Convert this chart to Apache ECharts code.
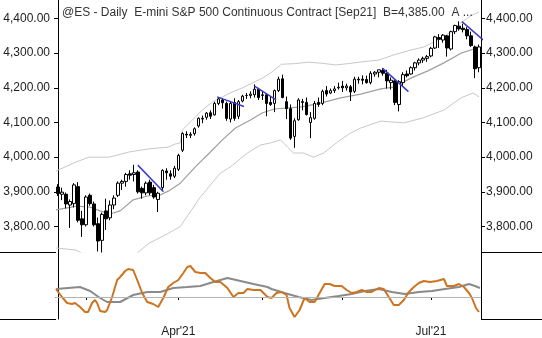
<!DOCTYPE html>
<html><head><meta charset="utf-8">
<script src="https://cdn.jsdelivr.net/npm/echarts@6/dist/echarts.min.js"></script>
<style>html,body{margin:0;padding:0;background:#fff;overflow:hidden}#c{width:542px;height:338px}</style>
</head><body><div id="c"></div>
<script>
// ---- data ----
const dates = [
'2021-02-18','2021-02-19','2021-02-22','2021-02-23','2021-02-24','2021-02-25','2021-02-26',
'2021-03-01','2021-03-02','2021-03-03','2021-03-04','2021-03-05','2021-03-08','2021-03-09','2021-03-10','2021-03-11','2021-03-12',
'2021-03-15','2021-03-16','2021-03-17','2021-03-18','2021-03-19','2021-03-22','2021-03-23','2021-03-24','2021-03-25','2021-03-26',
'2021-03-29','2021-03-30','2021-03-31',
'2021-04-01','2021-04-05','2021-04-06','2021-04-07','2021-04-08','2021-04-09','2021-04-12','2021-04-13','2021-04-14','2021-04-15','2021-04-16',
'2021-04-19','2021-04-20','2021-04-21','2021-04-22','2021-04-23','2021-04-26','2021-04-27','2021-04-28','2021-04-29','2021-04-30',
'2021-05-03','2021-05-04','2021-05-05','2021-05-06','2021-05-07','2021-05-10','2021-05-11','2021-05-12','2021-05-13','2021-05-14',
'2021-05-17','2021-05-18','2021-05-19','2021-05-20','2021-05-21','2021-05-24','2021-05-25','2021-05-26','2021-05-27','2021-05-28',
'2021-06-01','2021-06-02','2021-06-03','2021-06-04','2021-06-07','2021-06-08','2021-06-09','2021-06-10','2021-06-11',
'2021-06-14','2021-06-15','2021-06-16','2021-06-17','2021-06-18','2021-06-21','2021-06-22','2021-06-23','2021-06-24','2021-06-25',
'2021-06-28','2021-06-29','2021-06-30',
'2021-07-01','2021-07-02','2021-07-06','2021-07-07','2021-07-08','2021-07-09','2021-07-12','2021-07-13','2021-07-14','2021-07-15','2021-07-16',
'2021-07-19','2021-07-20'];

const opens = [3914,3893,3893,3862,3866,3915,3822,3805,3890,3865,3808,3760,3845,3825,3862,3890,3925,3930,3952,3950,3957,3910,3897,3928,3912,3878,3912,3960,3952,3945,
3965,4020,4066,4063,4068,4090,4110,4115,4128,4122,4155,4165,4155,4110,4158,4118,4162,4178,4178,4180,4196,
4178,4180,4158,4155,4192,4226,4160,4140,4060,4108,4160,4158,4100,4112,4158,4155,4192,4185,4192,4200,
4205,4200,4203,4190,4225,4225,4224,4215,4240,4245,4250,4242,4215,4220,4152,4215,4240,4240,4258,4272,4280,4285,
4292,4315,4345,4338,4350,4312,4362,4378,4372,4368,4350,4318,4258];
const highs = [3922,3912,3898,3878,3925,3928,3845,3890,3895,3872,3826,3840,3880,3875,3890,3930,3935,3955,3962,3978,3962,3915,3930,3935,3920,3900,3965,3968,3962,3975,
4010,4072,4075,4072,4086,4115,4120,4130,4135,4160,4172,4170,4160,4160,4170,4165,4180,4185,4190,4210,4200,
4192,4182,4175,4195,4232,4238,4175,4152,4112,4170,4168,4172,4130,4162,4172,4195,4205,4198,4205,4215,
4220,4212,4208,4232,4232,4236,4235,4248,4248,4252,4257,4252,4230,4225,4222,4245,4250,4262,4275,4285,4290,4295,
4318,4350,4355,4355,4352,4365,4382,4392,4385,4375,4362,4322,4325];
const lows = [3888,3876,3852,3796,3855,3812,3770,3800,3860,3800,3728,3725,3790,3818,3850,3885,3905,3915,3935,3930,3895,3880,3890,3890,3880,3842,3905,3935,3935,3940,
3960,4015,4055,4055,4062,4085,4098,4108,4110,4120,4150,4140,4105,4100,4105,4110,4158,4168,4170,4172,4165,
4165,4118,4148,4130,4188,4170,4110,4050,4027,4105,4135,4120,4055,4108,4145,4150,4175,4182,4185,4195,
4188,4192,4162,4185,4212,4210,4212,4210,4232,4230,4235,4198,4195,4150,4132,4205,4230,4238,4250,4265,4272,4275,
4288,4312,4315,4330,4290,4308,4355,4365,4360,4340,4318,4228,4245];
const closes = [3895,3899,3865,3872,3920,3818,3805,3885,3866,3805,3758,3835,3822,3862,3882,3925,3930,3950,3948,3955,3900,3897,3925,3897,3885,3896,3962,3955,3945,3968,
4005,4068,4064,4066,4082,4112,4112,4127,4118,4155,4168,4157,4112,4155,4112,4160,4176,4178,4182,4196,4172,
4180,4155,4152,4192,4225,4172,4140,4055,4105,4165,4158,4123,4114,4155,4152,4190,4182,4192,4197,4202,
4200,4205,4188,4225,4223,4222,4215,4242,4245,4252,4242,4220,4222,4158,4218,4238,4235,4258,4272,4280,4285,4290,
4314,4347,4340,4352,4315,4362,4380,4370,4368,4350,4322,4255,4318];

// band lines: [bar index, price]
const upperBand = [[-0.5,3960],[4.5,3986],[7.75,4000],[12.75,4000],[17.75,4015],[22.75,4024],[27.5,4029],[29.25,4038],[30.5,4041],[31,4078],[33.5,4107],[36,4136],[38.5,4159],[41,4174],[43.5,4188],[46,4200],[48.5,4214],[51,4228],[53.25,4245],[55.75,4268],[59.25,4270],[62.5,4274],[65.75,4271],[69.25,4266],[72.5,4270],[75.75,4275],[80,4280],[83.75,4295],[88,4309],[91.25,4318],[94.75,4338],[98,4361],[100.5,4388],[103,4408],[105,4419]];
const midBand = [[-0.5,3848],[4.75,3859],[8,3856],[10.5,3845],[13,3836],[15.5,3845],[18.75,3877],[22.25,3888],[25.5,3891],[27.5,3902],[30.5,3925],[34.25,3972],[37.75,4012],[41,4050],[44.25,4084],[48,4107],[51,4128],[54,4139],[60.75,4145],[65.5,4156],[70.5,4171],[75.5,4182],[80.5,4197],[83.75,4202],[88,4228],[92.25,4249],[96.25,4272],[100.5,4300],[103.75,4312],[105,4312]];
const lowerBand = [[-0.5,3738],[4.5,3732],[7.75,3712],[12.75,3672],[17.75,3705],[22.75,3752],[27.5,3780],[30.5,3800],[35.5,3885],[40.5,3954],[43,3972],[47.25,4012],[50.5,4035],[53,4041],[55.5,4050],[57.25,4029],[58.75,4012],[61.25,4012],[63.75,4000],[66.25,4012],[69.75,4044],[73,4070],[75.5,4084],[80.5,4104],[86.25,4099],[91,4113],[96.25,4136],[100.5,4171],[103.5,4185],[105,4174]];

const trendLines = [
  [[19.9,3977],[26.3,3900]],
  [[39.7,4174],[46.4,4146]],
  [[49,4205],[54.4,4165]],
  [[80.9,4257],[87.4,4189]],
  [[100.75,4391],[107.5,4324]]
];

// lower oscillator panel: [bar index, value]
const oscFast = [[-0.5,8],[1,0],[2.25,-6],[3.5,-7],[4.25,-6],[5.5,-10],[6.75,-15],[7.5,-15],[8.5,-6],[9.25,-3],[9.75,-6],[10.5,-14],[11.75,-15],[12.25,-13],[13.5,0],[14.75,17],[15.5,20],[16.75,26],[17.5,28],[18.75,27],[19.75,17],[21,4],[22.25,-5],[23.75,-7],[25,-10],[26.25,-1],[27.5,10],[28.75,14],[30,17],[31.25,24],[32.25,30],[33,31],[34.25,25],[35.5,24],[36.75,24],[38,19],[39.25,15],[40.5,15],[42.25,9],[43.75,0],[45,4],[46.25,4],[47.25,8],[48.75,7],[50.5,7],[52.25,0],[53.25,-1],[54.5,4],[55.75,5],[57,2],[57.75,-11],[59,-20],[60.25,-13],[61.5,-1],[62.75,-5],[64,-5],[65.25,4],[66.5,13],[67.75,13],[69,11],[70.75,11],[72,7],[73.25,4],[74.5,5],[75.75,7],[77,5],[78.25,5],[80,9],[81.25,8],[82.5,0],[83.75,-8],[85,-8],[86.25,-3],[87.5,5],[88.75,10],[90,14],[91.25,16],[92.75,15],[94.5,16],[96.25,18],[97,11],[98.75,11],[100,13],[101.25,10],[102.5,4],[103.25,-1],[104.25,-11],[105,-15]];
const oscSlow = [[-0.5,8],[5.5,10],[8,6],[10.5,-1],[12.25,-5],[15.5,-5],[18.75,2],[22.25,5],[25.5,5],[28.75,9],[32.25,10],[35.5,11],[38.75,15],[42.25,19],[45.5,16],[48.75,13],[52.25,10],[53.25,8],[56.5,4],[60,0],[63.25,-3],[66.5,-1],[70,1],[73.25,3],[76.5,6],[80,8],[83.25,5],[86.5,3],[90,5],[93.25,6],[96.5,8],[100,10],[102.5,13],[104,11],[105.25,9]];

const priceTicks = [3800,3900,4000,4100,4200,4300,4400];
const monthStarts = ['2021-03-01','2021-04-01','2021-05-03','2021-06-01','2021-07-01'];
const quarterLabels = {'2021-04-01':"Apr'21",'2021-07-01':"Jul'21"};
const titleText = "@ES - Daily  E-mini S&P 500 Continuous Contract [Sep21]  B=4,385.00  A ...";

// ---- chart ----
const FONT = 'Liberation Sans';
function fmt(v){
  const s = Math.round(v).toString();
  return s.replace(/\B(?=(\d{3})+(?!\d))/g, ',') + '.00';
}
const candles = dates.map((d,i)=>[opens[i],closes[i],lows[i],highs[i]]);
const chart = echarts.init(document.getElementById('c'), null, {renderer:'canvas'});
const yMin = 3726.4, yMax = 4453.4;
const priceAxis = (pos)=>({
  type:'value', gridIndex:0, position:pos, min:yMin, max:yMax, scale:true,
  splitLine:{show:false},
  axisLine:{show:true, lineStyle:{color:'#000', width:1}},
  axisTick:{show:true, length:4, lineStyle:{color:'#000'}, customValues:priceTicks},
  axisLabel:{show:true, customValues:priceTicks, formatter:fmt, margin: pos==='left'?6:5,
    color:'#222', fontFamily:FONT, fontSize:12}
});
const option = {
  animation:false,
  backgroundColor:'#fff',
  title:{text:titleText, left:57, top:2, textStyle:{fontFamily:FONT, fontSize:12, fontWeight:'normal', color:'#333'}},
  grid:[
    {left:56, right:61, top:0, height:252},
    {left:56, right:61, top:252, height:67}
  ],
  xAxis:[
    {type:'category', gridIndex:0, data:dates, boundaryGap:true, show:false},
    {type:'value', gridIndex:0, min:-0.5, max:105.5, show:false},
    {type:'category', gridIndex:1, data:dates, boundaryGap:true,
      axisLine:{show:true, lineStyle:{color:'#000', width:1}},
      axisTick:{show:true, alignWithLabel:true, length:3, lineStyle:{color:'#000'},
        interval:(idx,val)=>monthStarts.indexOf(val)>=0},
      axisLabel:{show:true, interval:(idx,val)=>quarterLabels[val]!==undefined,
        formatter:(val)=>quarterLabels[val]||'', margin:7, color:'#222', fontFamily:FONT, fontSize:12},
      splitLine:{show:false}},
    {type:'value', gridIndex:1, min:-0.5, max:105.5, show:false}
  ],
  yAxis:[
    priceAxis('left'),
    priceAxis('right'),
    {type:'value', gridIndex:1, position:'left', min:-22, max:45,
      axisLine:{show:true, lineStyle:{color:'#000', width:1}}, axisTick:{show:false}, axisLabel:{show:false}, splitLine:{show:false}},
    {type:'value', gridIndex:1, position:'right', min:-22, max:45,
      axisLine:{show:true, lineStyle:{color:'#000', width:1}}, axisTick:{show:false}, axisLabel:{show:false}, splitLine:{show:false}}
  ],
  series:[
    {type:'line', xAxisIndex:1, yAxisIndex:0, data:upperBand, showSymbol:false, z:1,
      lineStyle:{color:'#c8c8c8', width:1}},
    {type:'line', xAxisIndex:1, yAxisIndex:0, data:lowerBand, showSymbol:false, z:1,
      lineStyle:{color:'#c8c8c8', width:1}},
    {type:'line', xAxisIndex:1, yAxisIndex:0, data:midBand, showSymbol:false, z:1,
      lineStyle:{color:'#a0a0a0', width:1.2}},
    {type:'candlestick', xAxisIndex:0, yAxisIndex:0, data:candles, barWidth:3, z:3,
      itemStyle:{color:'#ffffff', color0:'#000000', borderColor:'#000000', borderColor0:'#000000', borderWidth:1}},
    ...trendLines.map(seg=>({type:'line', xAxisIndex:1, yAxisIndex:0, data:seg, showSymbol:false, clip:false, z:4,
      lineStyle:{color:'#3c3cc8', width:1.5}})),
    {type:'line', xAxisIndex:3, yAxisIndex:2, data:oscSlow, showSymbol:false, z:2,
      lineStyle:{color:'#8a8a8a', width:2},
      markLine:{silent:true, symbol:['none','none'], label:{show:false},
        lineStyle:{color:'#b4b4b4', width:1, type:'solid'}, data:[{yAxis:0}]}},
    {type:'line', xAxisIndex:3, yAxisIndex:2, data:oscFast, showSymbol:false, z:3,
      lineStyle:{color:'#cc7420', width:2}}
  ],
  graphic:[
    {type:'line', shape:{x1:0,y1:252.5,x2:56,y2:252.5}, style:{stroke:'#000', lineWidth:1}, silent:true},
    {type:'line', shape:{x1:481,y1:252.5,x2:542,y2:252.5}, style:{stroke:'#000', lineWidth:1}, silent:true},
    {type:'line', shape:{x1:0,y1:319.5,x2:56,y2:319.5}, style:{stroke:'#000', lineWidth:1}, silent:true},
    {type:'line', shape:{x1:481,y1:319.5,x2:542,y2:319.5}, style:{stroke:'#000', lineWidth:1}, silent:true}
  ]
};
chart.setOption(option);
</script>
</body></html>
